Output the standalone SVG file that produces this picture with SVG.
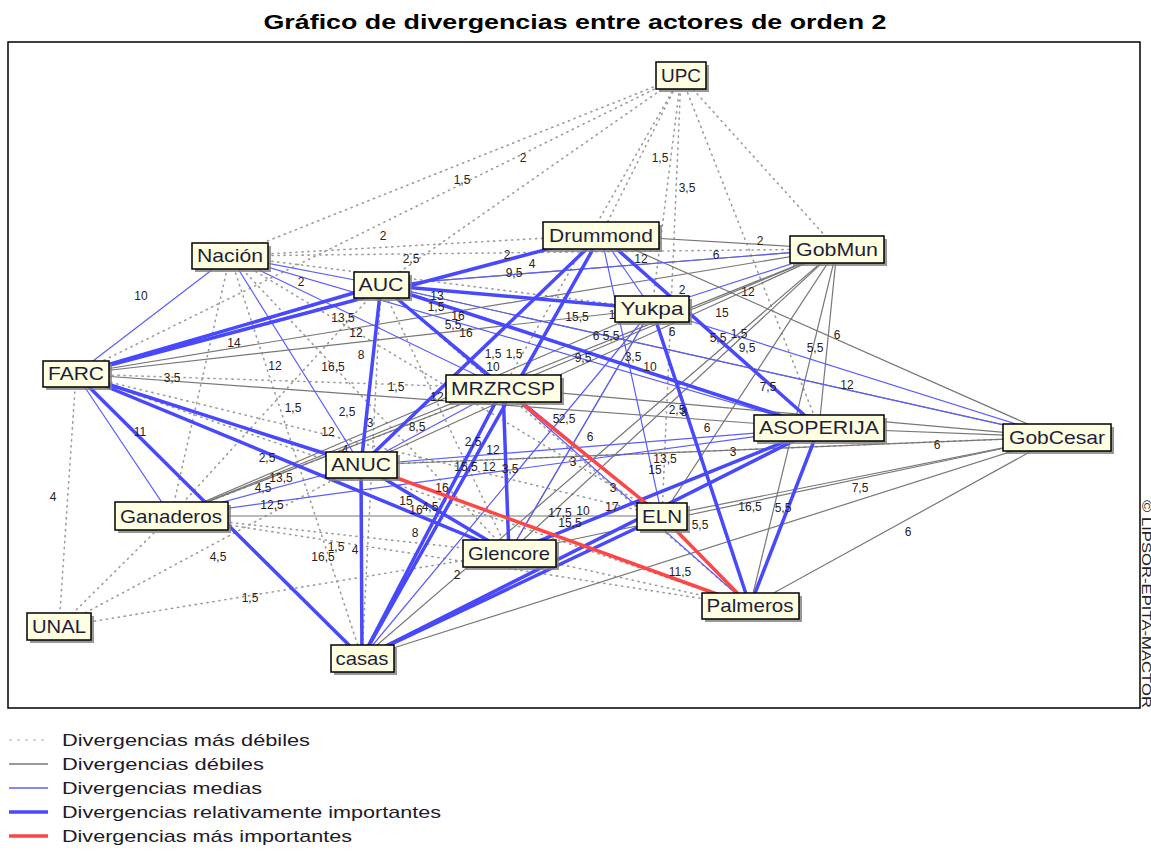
<svg xmlns="http://www.w3.org/2000/svg" width="1151" height="853" viewBox="0 0 1151 853">
<style>
.d{stroke:#9c9c9c;stroke-width:1.6;stroke-dasharray:1.2 4.8;stroke-linecap:round;fill:none}
.g{stroke:#777;stroke-width:1.2}
.m{stroke:#5c5cff;stroke-width:1.2}
.t{stroke:#4848ff;stroke-width:3.5}
.r{stroke:#ff4646;stroke-width:3.5}
.l{font-family:"Liberation Sans",Arial,sans-serif;font-size:12px;fill:#2a2020;text-anchor:middle}
.nb{fill:#ffffe1;stroke:#000;stroke-width:1.5}
.ns{fill:#808080;opacity:0.8}
.nt{font-family:"Liberation Sans",Arial,sans-serif;font-size:19px;fill:#1e1e3c;text-anchor:middle}
.lg{font-family:"Liberation Sans",Arial,sans-serif;font-size:17px;fill:#1e1a2a}
</style>
<rect x="0" y="0" width="1151" height="853" fill="#fff"/>
<text x="575" y="29" font-family="Liberation Sans, Arial, sans-serif" font-size="20" font-weight="bold" fill="#000" text-anchor="middle" textLength="623" lengthAdjust="spacingAndGlyphs">Gráfico de divergencias entre actores de orden 2</text>
<rect x="8" y="42" width="1132" height="666" fill="none" stroke="#000" stroke-width="1.5"/>
<text transform="translate(1142,500) rotate(90)" font-family="Liberation Sans, Arial, sans-serif" font-size="12" fill="#222" textLength="208" lengthAdjust="spacingAndGlyphs">© LIPSOR-EPITA-MACTOR</text>
<g id="connectors">
<g id="dotted">
<line class="d" x1="681" y1="76" x2="230" y2="256"/>
<line class="d" x1="681" y1="76" x2="76" y2="374"/>
<line class="d" x1="681" y1="76" x2="381" y2="285"/>
<line class="d" x1="681" y1="76" x2="601" y2="235"/>
<line class="d" x1="681" y1="76" x2="503" y2="388"/>
<line class="d" x1="681" y1="76" x2="652" y2="309"/>
<line class="d" x1="681" y1="76" x2="837" y2="249"/>
<line class="d" x1="681" y1="76" x2="819" y2="428"/>
<line class="d" x1="681" y1="76" x2="662" y2="516"/>
<line class="d" x1="230" y1="256" x2="601" y2="235"/>
<line class="d" x1="230" y1="256" x2="837" y2="249"/>
<line class="d" x1="230" y1="256" x2="171" y2="516"/>
<line class="d" x1="230" y1="256" x2="362" y2="658"/>
<line class="d" x1="230" y1="256" x2="509" y2="553"/>
<line class="d" x1="230" y1="256" x2="652" y2="309"/>
<line class="d" x1="230" y1="256" x2="662" y2="516"/>
<line class="d" x1="76" y1="374" x2="59" y2="627"/>
<line class="d" x1="76" y1="374" x2="662" y2="516"/>
<line class="d" x1="76" y1="374" x2="750" y2="606"/>
<line class="d" x1="76" y1="374" x2="503" y2="388"/>
<line class="d" x1="171" y1="516" x2="59" y2="627"/>
<line class="d" x1="59" y1="627" x2="509" y2="553"/>
<line class="d" x1="59" y1="627" x2="361" y2="465"/>
<line class="d" x1="171" y1="516" x2="509" y2="553"/>
<line class="d" x1="171" y1="516" x2="750" y2="606"/>
<line class="d" x1="381" y1="285" x2="171" y2="516"/>
<line class="d" x1="381" y1="285" x2="362" y2="658"/>
<line class="d" x1="381" y1="285" x2="509" y2="553"/>
<line class="d" x1="381" y1="285" x2="750" y2="606"/>
<line class="d" x1="503" y1="388" x2="171" y2="516"/>
<line class="d" x1="509" y1="553" x2="750" y2="606"/>
<line class="d" x1="819" y1="428" x2="509" y2="553"/>
<line class="d" x1="1057" y1="437" x2="361" y2="465"/>
</g>
<g id="weak">
<line class="g" x1="601" y1="235" x2="837" y2="249"/>
<line class="g" x1="381" y1="285" x2="837" y2="249"/>
<line class="g" x1="601" y1="235" x2="1057" y2="437"/>
<line class="g" x1="76" y1="374" x2="652" y2="309"/>
<line class="g" x1="76" y1="374" x2="837" y2="249"/>
<line class="g" x1="76" y1="374" x2="819" y2="428"/>
<line class="g" x1="171" y1="516" x2="662" y2="516"/>
<line class="g" x1="171" y1="516" x2="503" y2="388"/>
<line class="g" x1="171" y1="516" x2="652" y2="309"/>
<line class="g" x1="361" y1="465" x2="1057" y2="437"/>
<line class="g" x1="503" y1="388" x2="1057" y2="437"/>
<line class="g" x1="381" y1="285" x2="1057" y2="437"/>
<line class="g" x1="837" y1="249" x2="361" y2="465"/>
<line class="g" x1="837" y1="249" x2="509" y2="553"/>
<line class="g" x1="837" y1="249" x2="362" y2="658"/>
<line class="g" x1="837" y1="249" x2="662" y2="516"/>
<line class="g" x1="837" y1="249" x2="819" y2="428"/>
<line class="g" x1="837" y1="249" x2="750" y2="606"/>
<line class="g" x1="837" y1="249" x2="503" y2="388"/>
<line class="g" x1="837" y1="249" x2="171" y2="516"/>
<line class="g" x1="1057" y1="437" x2="819" y2="428"/>
<line class="g" x1="1057" y1="437" x2="662" y2="516"/>
<line class="g" x1="1057" y1="437" x2="509" y2="553"/>
<line class="g" x1="1057" y1="437" x2="362" y2="658"/>
<line class="g" x1="1057" y1="437" x2="750" y2="606"/>
<line class="g" x1="652" y1="309" x2="509" y2="553"/>
</g>
<g id="medium">
<line class="m" x1="76" y1="374" x2="230" y2="256"/>
<line class="m" x1="76" y1="374" x2="171" y2="516"/>
<line class="m" x1="230" y1="256" x2="381" y2="285"/>
<line class="m" x1="230" y1="256" x2="503" y2="388"/>
<line class="m" x1="230" y1="256" x2="819" y2="428"/>
<line class="m" x1="230" y1="256" x2="361" y2="465"/>
<line class="m" x1="381" y1="285" x2="837" y2="249"/>
<line class="m" x1="381" y1="285" x2="662" y2="516"/>
<line class="m" x1="381" y1="285" x2="1057" y2="437"/>
<line class="m" x1="652" y1="309" x2="1057" y2="437"/>
<line class="m" x1="837" y1="249" x2="652" y2="309"/>
<line class="m" x1="601" y1="235" x2="662" y2="516"/>
<line class="m" x1="601" y1="235" x2="652" y2="309"/>
<line class="m" x1="509" y1="553" x2="652" y2="309"/>
<line class="m" x1="362" y1="658" x2="652" y2="309"/>
<line class="m" x1="361" y1="465" x2="819" y2="428"/>
<line class="m" x1="171" y1="516" x2="361" y2="465"/>
<line class="m" x1="171" y1="516" x2="819" y2="428"/>
<line class="m" x1="503" y1="388" x2="750" y2="606"/>
<line class="m" x1="503" y1="388" x2="361" y2="465"/>
</g>
<g id="important">
<line class="t" x1="76" y1="374" x2="381" y2="285"/>
<line class="t" x1="76" y1="374" x2="601" y2="235"/>
<line class="t" x1="76" y1="374" x2="361" y2="465"/>
<line class="t" x1="76" y1="374" x2="509" y2="553"/>
<line class="t" x1="76" y1="374" x2="362" y2="658"/>
<line class="t" x1="381" y1="285" x2="503" y2="388"/>
<line class="t" x1="381" y1="285" x2="819" y2="428"/>
<line class="t" x1="381" y1="285" x2="652" y2="309"/>
<line class="t" x1="381" y1="285" x2="361" y2="465"/>
<line class="t" x1="361" y1="465" x2="362" y2="658"/>
<line class="t" x1="601" y1="235" x2="361" y2="465"/>
<line class="t" x1="601" y1="235" x2="362" y2="658"/>
<line class="t" x1="601" y1="235" x2="819" y2="428"/>
<line class="t" x1="652" y1="309" x2="750" y2="606"/>
<line class="t" x1="819" y1="428" x2="750" y2="606"/>
<line class="t" x1="503" y1="388" x2="509" y2="553"/>
<line class="t" x1="503" y1="388" x2="362" y2="658"/>
<line class="t" x1="361" y1="465" x2="509" y2="553"/>
<line class="t" x1="362" y1="658" x2="819" y2="428"/>
<line class="t" x1="362" y1="658" x2="662" y2="516"/>
<line class="t" x1="509" y1="553" x2="819" y2="428"/>
</g>
<g id="most">
<line class="r" x1="503" y1="388" x2="662" y2="516"/>
<line class="r" x1="361" y1="465" x2="750" y2="606"/>
<line class="r" x1="662" y1="516" x2="750" y2="606"/>
</g>
</g>
<g id="labels">
<text class="l" x="523" y="162">2</text><text class="l" x="462" y="184">1,5</text><text class="l" x="660" y="162">1,5</text><text class="l" x="687" y="192">3,5</text>
<text class="l" x="383" y="240">2</text><text class="l" x="411" y="263">2,5</text><text class="l" x="507" y="259">2</text><text class="l" x="514" y="277">9,5</text><text class="l" x="532" y="268">4</text>
<text class="l" x="641" y="263">12</text><text class="l" x="716" y="259">6</text><text class="l" x="760" y="245">2</text>
<text class="l" x="141" y="300">10</text><text class="l" x="301" y="286">2</text>
<text class="l" x="437" y="300">13</text><text class="l" x="436" y="311">1,5</text><text class="l" x="458" y="320">16</text><text class="l" x="453" y="329">5,5</text><text class="l" x="466" y="337">16</text>
<text class="l" x="343" y="322">13,5</text><text class="l" x="356" y="337">12</text><text class="l" x="361" y="359">8</text>
<text class="l" x="234" y="347">14</text><text class="l" x="275" y="370">12</text><text class="l" x="333" y="371">16,5</text><text class="l" x="172" y="382">3,5</text><text class="l" x="396" y="391">1,5</text>
<text class="l" x="577" y="321">15,5</text><text class="l" x="612" y="319">1</text><text class="l" x="596" y="340">6</text><text class="l" x="611" y="340">5,5</text>
<text class="l" x="493" y="358">1,5</text><text class="l" x="514" y="358">1,5</text><text class="l" x="493" y="371">10</text>
<text class="l" x="583" y="362">9,5</text><text class="l" x="633" y="361">3,5</text><text class="l" x="650" y="371">10</text><text class="l" x="672" y="336">6</text>
<text class="l" x="682" y="294">2</text><text class="l" x="748" y="296">12</text><text class="l" x="722" y="317">15</text><text class="l" x="718" y="342">5,5</text><text class="l" x="739" y="338">1,5</text><text class="l" x="747" y="352">9,5</text>
<text class="l" x="837" y="339">6</text><text class="l" x="815" y="352">5,5</text><text class="l" x="768" y="391">7,5</text><text class="l" x="847" y="389">12</text>
<text class="l" x="437" y="401">12</text>
<text class="l" x="293" y="412">1,5</text><text class="l" x="347" y="416">2,5</text><text class="l" x="370" y="427">3</text><text class="l" x="328" y="436">12</text><text class="l" x="417" y="431">8,5</text><text class="l" x="345" y="454">4</text>
<text class="l" x="267" y="462">2,5</text><text class="l" x="281" y="482">13,5</text><text class="l" x="263" y="492">4,5</text><text class="l" x="272" y="509">12,5</text>
<text class="l" x="473" y="446">2,5</text><text class="l" x="493" y="454">12</text><text class="l" x="466" y="471">15,5</text><text class="l" x="489" y="471">12</text><text class="l" x="510" y="473">3,5</text>
<text class="l" x="442" y="492">16</text><text class="l" x="406" y="505">15</text><text class="l" x="416" y="514">16</text><text class="l" x="430" y="511">4,5</text>
<text class="l" x="415" y="537">8</text><text class="l" x="336" y="551">1,5</text><text class="l" x="355" y="554">4</text><text class="l" x="323" y="561">16,5</text>
<text class="l" x="218" y="561">4,5</text><text class="l" x="250" y="602">1,5</text><text class="l" x="457" y="579">2</text><text class="l" x="53" y="501">4</text><text class="l" x="140" y="436">11</text>
<text class="l" x="556" y="423">5</text><text class="l" x="567" y="423">2,5</text><text class="l" x="677" y="414">2,5</text><text class="l" x="684" y="416">8</text><text class="l" x="590" y="441">6</text><text class="l" x="707" y="432">6</text>
<text class="l" x="573" y="466">3</text><text class="l" x="665" y="463">13,5</text><text class="l" x="655" y="474">15</text><text class="l" x="733" y="456">3</text>
<text class="l" x="613" y="492">3</text><text class="l" x="612" y="511">17</text><text class="l" x="560" y="517">17,5</text><text class="l" x="583" y="515">10</text><text class="l" x="570" y="527">15,5</text>
<text class="l" x="700" y="529">5,5</text><text class="l" x="750" y="511">16,5</text><text class="l" x="783" y="512">5,5</text><text class="l" x="680" y="576">11,5</text>
<text class="l" x="937" y="449">6</text><text class="l" x="860" y="492">7,5</text><text class="l" x="908" y="536">6</text>
</g>
<g id="n-UPC"><rect class="ns" x="659" y="65" width="50" height="27"/><rect class="nb" x="656" y="62" width="50" height="27"/><text class="nt" x="681" y="82" textLength="40" lengthAdjust="spacingAndGlyphs">UPC</text></g>
<g id="n-Nacion"><rect class="ns" x="195" y="246" width="76" height="26"/><rect class="nb" x="192" y="243" width="76" height="26"/><text class="nt" x="230" y="262" textLength="66" lengthAdjust="spacingAndGlyphs">Nación</text></g>
<g id="n-Drummond"><rect class="ns" x="546" y="225" width="116" height="27"/><rect class="nb" x="543" y="222" width="116" height="27"/><text class="nt" x="601" y="242" textLength="104" lengthAdjust="spacingAndGlyphs">Drummond</text></g>
<g id="n-GobMun"><rect class="ns" x="793" y="239" width="94" height="27"/><rect class="nb" x="790" y="236" width="94" height="27"/><text class="nt" x="837" y="256" textLength="82" lengthAdjust="spacingAndGlyphs">GobMun</text></g>
<g id="n-AUC"><rect class="ns" x="357" y="275" width="55" height="26"/><rect class="nb" x="354" y="272" width="55" height="26"/><text class="nt" x="381" y="291" textLength="45" lengthAdjust="spacingAndGlyphs">AUC</text></g>
<g id="n-Yukpa"><rect class="ns" x="618" y="299" width="74" height="26"/><rect class="nb" x="615" y="296" width="74" height="26"/><text class="nt" x="652" y="315" textLength="63" lengthAdjust="spacingAndGlyphs">Yukpa</text></g>
<g id="n-FARC"><rect class="ns" x="46" y="364" width="66" height="26"/><rect class="nb" x="43" y="361" width="66" height="26"/><text class="nt" x="76" y="380" textLength="56" lengthAdjust="spacingAndGlyphs">FARC</text></g>
<g id="n-MRZRCSP"><rect class="ns" x="449" y="378" width="115" height="27"/><rect class="nb" x="446" y="375" width="115" height="27"/><text class="nt" x="503" y="395" textLength="104" lengthAdjust="spacingAndGlyphs">MRZRCSP</text></g>
<g id="n-ASOPERIJA"><rect class="ns" x="757" y="418" width="130" height="26"/><rect class="nb" x="754" y="415" width="130" height="26"/><text class="nt" x="819" y="434" textLength="120" lengthAdjust="spacingAndGlyphs">ASOPERIJA</text></g>
<g id="n-GobCesar"><rect class="ns" x="1006" y="427" width="108" height="27"/><rect class="nb" x="1003" y="424" width="108" height="27"/><text class="nt" x="1057" y="444" textLength="96" lengthAdjust="spacingAndGlyphs">GobCesar</text></g>
<g id="n-ANUC"><rect class="ns" x="329" y="455" width="71" height="26"/><rect class="nb" x="326" y="452" width="71" height="26"/><text class="nt" x="361" y="471" textLength="60" lengthAdjust="spacingAndGlyphs">ANUC</text></g>
<g id="n-Ganaderos"><rect class="ns" x="118" y="505" width="113" height="28"/><rect class="nb" x="115" y="502" width="113" height="28"/><text class="nt" x="171" y="523" textLength="102" lengthAdjust="spacingAndGlyphs">Ganaderos</text></g>
<g id="n-ELN"><rect class="ns" x="640" y="506" width="50" height="27"/><rect class="nb" x="637" y="503" width="50" height="27"/><text class="nt" x="662" y="523" textLength="40" lengthAdjust="spacingAndGlyphs">ELN</text></g>
<g id="n-Glencore"><rect class="ns" x="466" y="543" width="93" height="27"/><rect class="nb" x="463" y="540" width="93" height="27"/><text class="nt" x="509" y="560" textLength="82" lengthAdjust="spacingAndGlyphs">Glencore</text></g>
<g id="n-Palmeros"><rect class="ns" x="705" y="596" width="97" height="26"/><rect class="nb" x="702" y="593" width="97" height="26"/><text class="nt" x="750" y="612" textLength="87" lengthAdjust="spacingAndGlyphs">Palmeros</text></g>
<g id="n-UNAL"><rect class="ns" x="30" y="616" width="64" height="27"/><rect class="nb" x="27" y="613" width="64" height="27"/><text class="nt" x="59" y="633" textLength="54" lengthAdjust="spacingAndGlyphs">UNAL</text></g>
<g id="n-casas"><rect class="ns" x="334" y="648" width="63" height="27"/><rect class="nb" x="331" y="645" width="63" height="27"/><text class="nt" x="362" y="665" textLength="53" lengthAdjust="spacingAndGlyphs">casas</text></g>
<g id="legend">
<line x1="9" y1="740" x2="48" y2="740" stroke="#aaa" stroke-width="1.2" stroke-dasharray="3 5"/>
<line x1="9" y1="764" x2="48" y2="764" stroke="#777" stroke-width="1.3"/>
<line x1="9" y1="788" x2="48" y2="788" stroke="#5c5cff" stroke-width="1.3"/>
<line x1="9" y1="812" x2="48" y2="812" stroke="#4848ff" stroke-width="3.5"/>
<line x1="9" y1="836" x2="48" y2="836" stroke="#ff4646" stroke-width="3.5"/>
<text class="lg" x="62" y="746" textLength="248" lengthAdjust="spacingAndGlyphs">Divergencias más débiles</text>
<text class="lg" x="62" y="770" textLength="202" lengthAdjust="spacingAndGlyphs">Divergencias débiles</text>
<text class="lg" x="62" y="794" textLength="200" lengthAdjust="spacingAndGlyphs">Divergencias medias</text>
<text class="lg" x="62" y="818" textLength="379" lengthAdjust="spacingAndGlyphs">Divergencias relativamente importantes</text>
<text class="lg" x="62" y="842" textLength="290" lengthAdjust="spacingAndGlyphs">Divergencias más importantes</text>
</g>
</svg>
